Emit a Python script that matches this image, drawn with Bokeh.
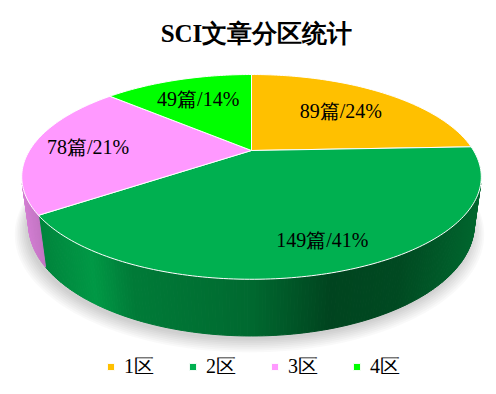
import math
import numpy as np
from bokeh.plotting import figure
from bokeh.models import Range1d, Legend, LegendItem
from bokeh.core.properties import value
from bokeh.embed import file_html
from bokeh.resources import INLINE

# ---------------- data ----------------
title = "SCI文章分区统计"
categories = ["1区", "2区", "3区", "4区"]
counts = [89, 149, 78, 49]
percent_labels = ["24%", "41%", "21%", "14%"]
colors = ["#FFC000", "#00B050", "#FF99FF", "#00FF00"]

# ---------------- layout / style ----------------
W, H = 496, 394
CX, CY = 251.0, 150.0          # screen position of the pie centre
F = 777.0                       # focal length (px)
D = 3.5                         # camera distance (in radii)
ALPHA = math.radians(25.5)      # elevation
CA, SA = math.cos(ALPHA), math.sin(ALPHA)
THICK = 0.237                   # pie thickness (in radii)
label_radius = [0.65, 0.80, 0.745, 0.68]
SERIF = "Liberation Serif"


def proj(X, Y, Z):
    v = Y * CA - Z * SA
    w = D - (Y * SA + Z * CA)
    return CX + F * X / w, CY - F * v / w


def rim(phi_deg, r=1.0, Y=0.0):
    ph = math.radians(phi_deg)
    return proj(r * math.sin(ph), Y, -r * math.cos(ph))


def hex_to_rgb(h):
    h = h.lstrip("#")
    return tuple(int(h[i:i + 2], 16) for i in (0, 2, 4))


def shade(hex_color, f):
    r, g, b = hex_to_rgb(hex_color)
    return "#%02x%02x%02x" % (int(min(255, r * f)), int(min(255, g * f)), int(min(255, b * f)))


total = float(sum(counts))
starts, ends = [], []
acc = 0.0
for c in counts:
    starts.append(360.0 * acc / total)
    acc += c
    ends.append(360.0 * acc / total)

p = figure(width=W, height=H, x_range=Range1d(0, W), y_range=Range1d(H, 0),
           x_axis_location=None, y_axis_location=None, toolbar_location=None,
           output_backend="svg", min_border=0, outline_line_color=None)
p.grid.visible = False
p.background_fill_color = "white"
p.border_fill_color = "white"

# ---------------- soft shadow ----------------
sh_xs, sh_ys = [], []
n_layers = 8
for k in range(n_layers):
    r = 1.05 - 0.007 * k
    pts = [rim(a, r=r, Y=-THICK) for a in np.arange(0, 361, 2)]
    sh_xs.append([x - 2 for x, y in pts])
    sh_ys.append([y + 7 - 0.5 * k for x, y in pts])
p.patches(sh_xs, sh_ys, fill_color="#000000", fill_alpha=0.025, line_color=None)

# ---------------- side wall ----------------
phi_lo = math.degrees(math.acos(-1.0 / (D * CA)))
phi_hi = 360.0 - phi_lo
shade_x = [18, 40, 90, 130, 250, 330, 400, 486]
shade_f = [0.84, 0.76, 0.87, 0.70, 0.60, 0.39, 0.42, 0.60]

side_xs, side_ys, side_c = [], [], []
for i in range(len(counts)):
    a0, a1 = max(starts[i], phi_lo), min(ends[i], phi_hi)
    if a1 <= a0:
        continue
    n = max(2, int((a1 - a0) / 0.7))
    angs = np.linspace(a0, a1, n + 1)
    for j in range(n):
        ta, tb = angs[j], angs[j + 1]
        p1, p2 = rim(ta), rim(tb)
        p3, p4 = rim(tb, Y=-THICK), rim(ta, Y=-THICK)
        side_xs.append([p1[0], p2[0], p3[0], p4[0]])
        side_ys.append([p1[1], p2[1], p3[1], p4[1]])
        xm = (p1[0] + p2[0]) / 2
        side_c.append(shade(colors[i], float(np.interp(xm, shade_x, shade_f))))
p.patches(side_xs, side_ys, fill_color=side_c, line_color=side_c, line_width=1.0)

# ---------------- top face ----------------
cxp, cyp = proj(0, 0, 0)
top_xs, top_ys = [], []
for i in range(len(counts)):
    angs = np.linspace(starts[i], ends[i], max(3, int(ends[i] - starts[i]) + 1))
    pts = [rim(a) for a in angs]
    top_xs.append([cxp] + [x for x, y in pts])
    top_ys.append([cyp] + [y for x, y in pts])
top = p.patches(top_xs, top_ys, fill_color=colors, line_color="white", line_width=1.0)

# ---------------- data labels ----------------
lx, ly, lt = [], [], []
for i in range(len(counts)):
    mid = (starts[i] + ends[i]) / 2
    x, y = rim(mid, r=label_radius[i])
    lx.append(x)
    ly.append(y)
    lt.append(f"{counts[i]}篇/{percent_labels[i]}")
p.text(lx, ly, text=lt, text_align="center", text_baseline="middle",
       text_font=value(SERIF), text_font_size="20px", text_color="black")

# ---------------- title ----------------
p.text([W / 2 + 8], [33], text=[title], text_align="center", text_baseline="middle",
       text_font=value(SERIF), text_font_size="25px", text_font_style="bold",
       text_color="black")

# ---------------- legend ----------------
items = [LegendItem(label=cat, renderers=[top], index=i) for i, cat in enumerate(categories)]
legend = Legend(items=items, orientation="horizontal", location=(106, 14),
                glyph_width=9, glyph_height=9, label_standoff=9, spacing=34,
                padding=0, margin=0, border_line_color=None, background_fill_alpha=0,
                label_text_font=SERIF, label_text_font_size="20px", label_text_color="black")
p.add_layout(legend)

open("out.html", "w").write(file_html(p, INLINE))
